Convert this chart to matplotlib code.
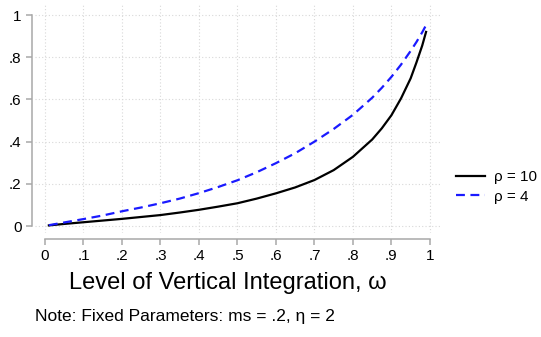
import numpy as np
import matplotlib
matplotlib.use("Agg")
import matplotlib.pyplot as plt

plt.rcParams['font.family'] = ['Liberation Sans', 'DejaVu Sans']

# values
omega = [0.01, 0.05, 0.1, 0.15, 0.2, 0.25, 0.3, 0.35, 0.4, 0.45, 0.5, 0.55, 0.6, 0.65,
         0.7, 0.75, 0.8, 0.85, 0.875, 0.9, 0.925, 0.95, 0.965, 0.98, 0.99]
share_rho10 = [0.003, 0.01, 0.018, 0.026, 0.034, 0.043, 0.052, 0.064, 0.077, 0.092, 0.108, 0.13,
               0.155, 0.183, 0.218, 0.265, 0.328, 0.41, 0.463, 0.525, 0.605, 0.70, 0.775, 0.855, 0.92]
share_rho4 = [0.004, 0.017, 0.033, 0.05, 0.07, 0.088, 0.108, 0.13, 0.156, 0.185, 0.217, 0.255,
              0.298, 0.345, 0.40, 0.46, 0.527, 0.608, 0.655, 0.707, 0.765, 0.83, 0.872, 0.918, 0.952]

xticks = np.round(np.arange(0, 1.01, 0.1), 1)
xticklabels = ['0', '.1', '.2', '.3', '.4', '.5', '.6', '.7', '.8', '.9', '1']
yticks = [0, 0.2, 0.4, 0.6, 0.8, 1]
yticklabels = ['0', '.2', '.4', '.6', '.8', '1']

fig = plt.figure(figsize=(5.41, 3.37), dpi=100)
ax = fig.add_axes([0.0647, 0.3086, 0.752, 0.6825])

ax.plot(omega, share_rho10, color='black', lw=1.6, label='ρ = 10')
ax.plot(omega, share_rho4, color='#1a1aff', lw=1.6, ls=(0, (4, 2.5)), label='ρ = 4')

ax.set_xlim(-0.026, 1.031)
ax.set_ylim(-0.033, 1.057)
ax.set_xticks(xticks)
ax.set_xticklabels(xticklabels)
ax.set_yticks(yticks)
ax.set_yticklabels(yticklabels)

ax.grid(True, color='#d8d8d8', ls=(0, (1, 2)), lw=0.8)
for s in ['top', 'right']:
    ax.spines[s].set_visible(False)
ax.spines['left'].set_position(('outward', 2.2))
ax.spines['bottom'].set_position(('outward', 4.3))
ax.spines['left'].set_bounds(0, 1)
ax.spines['bottom'].set_bounds(0, 1)
for s in ['left', 'bottom']:
    ax.spines[s].set_color('#a8a8a8')
    ax.spines[s].set_linewidth(1.1)
ax.tick_params(axis='both', colors='#a8a8a8', labelcolor='black', labelsize=11, length=4, width=1.1)

ax.set_xlabel('Level of Vertical Integration, ω', fontsize=17)
ax.xaxis.set_label_coords(0.475, -0.17)

ax.legend(loc='center left', bbox_to_anchor=(1.0, 0.2), frameon=False, fontsize=11,
          handlelength=1.9, handletextpad=0.6, labelspacing=0.35)

fig.text(0.065, 0.06, 'Note: Fixed Parameters: ms = .2, η = 2', fontsize=12.5, va='center')

fig.savefig('out.png', dpi=100)
